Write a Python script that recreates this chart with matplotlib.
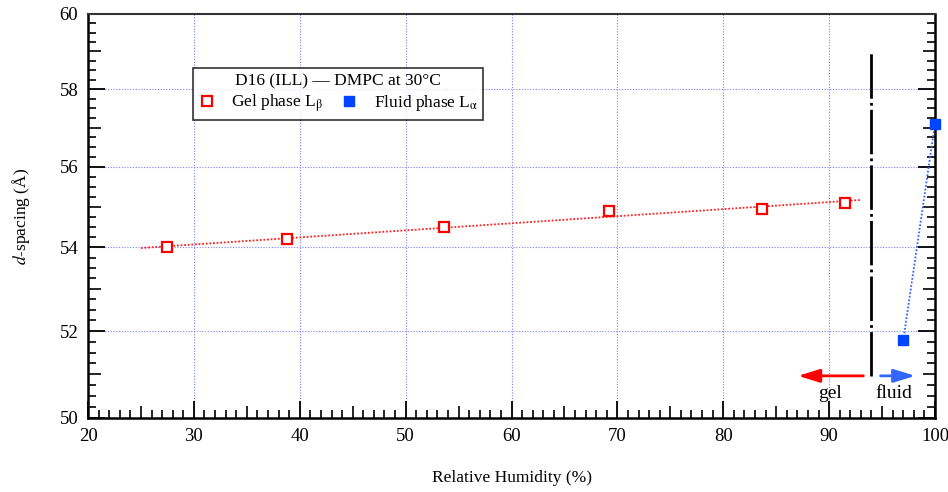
import numpy as np
import matplotlib
matplotlib.use("Agg")
import matplotlib.pyplot as plt
from matplotlib.ticker import FixedLocator, NullFormatter, FixedFormatter

plt.rcParams['font.family'] = ['Liberation Serif', 'DejaVu Serif']
plt.rcParams['mathtext.fontset'] = 'stix'

# data
gel_rh = [27.5, 38.8, 53.6, 69.2, 83.7, 91.5]
gel_d = [54.00, 54.20, 54.50, 54.90, 54.95, 55.10]
fluid_rh = [97.0, 100.0]
fluid_d = [51.78, 57.10]

fit_range = [25.0, 93.0]
boundary_rh = 94.0
x_ticks = [20, 30, 40, 50, 60, 70, 80, 90, 100]
y_ticks = [50, 52, 54, 56, 58, 60]

fig = plt.figure(figsize=(9.48, 4.92), dpi=100)
ax = fig.add_axes([88/948, 1-418/492, (935-88)/948, (418-14)/492])

ax.set_yscale('log')
ax.set_xlim(20, 100)
ax.set_ylim(50, 60)

# grid
for x in x_ticks[1:-1]:
    ax.axvline(x, color='#7f7fff', lw=0.8, ls=(0, (1, 1.5)), zorder=0)
for y in y_ticks[1:-1]:
    ax.axhline(y, color='#7f7fff', lw=0.8, ls=(0, (1, 1.5)), zorder=0)

# linear fit for the gel phase
a, b = np.polyfit(gel_rh, gel_d, 1)
xf = np.array(fit_range)
ax.plot(xf, a*xf + b, color='#ff2020', lw=1.3, ls=(0, (1, 1)), zorder=2)
ax.plot(fluid_rh, fluid_d, color='#3366ff', lw=1.3, ls=(0, (1, 1)), zorder=2)

ax.plot(gel_rh, gel_d, 's', ms=6.5, mfc='white', mec='#ff0000', mew=1.6,
        ls='none', label=r'Gel phase L$_\mathrm{β}$', zorder=3)
ax.plot(fluid_rh, fluid_d, 's', ms=7.5, mfc='#0044ff', mec='#0044ff',
        ls='none', label=r'Fluid phase L$_\mathrm{α}$', zorder=3, clip_on=False)

# phase boundary
ax.plot([boundary_rh, boundary_rh], [50.96, 59.0], color='black', lw=2,
        ls=(0, (16, 1.5, 1, 1.5)), zorder=2)

ax.annotate('', xy=(86.8, 50.96), xytext=(93.5, 50.96),
            arrowprops=dict(arrowstyle='-|>,head_length=1.3,head_width=0.4',
                            color='#ff0000', lw=2))
ax.annotate('', xy=(98.4, 50.96), xytext=(94.6, 50.96),
            arrowprops=dict(arrowstyle='-|>,head_length=1.3,head_width=0.4',
                            color='#3366ff', lw=2))
ax.text(90.1, 50.56, 'gel', ha='center', va='center', fontsize=14)
ax.text(96.1, 50.56, 'fluid', ha='center', va='center', fontsize=14)

# ticks
ax.xaxis.set_major_locator(FixedLocator(x_ticks))
ax.xaxis.set_minor_locator(FixedLocator([v for v in range(20, 101) if v % 5]))
ax.yaxis.set_major_locator(FixedLocator(y_ticks))
ax.yaxis.set_major_formatter(FixedFormatter([str(v) for v in y_ticks]))
ax.yaxis.set_minor_locator(FixedLocator([]))
ax.yaxis.set_minor_formatter(NullFormatter())
ax.tick_params(axis='both', which='major', direction='in', length=12, width=1.3,
               labelsize=13.5, pad=7)
ax.tick_params(axis='x', which='minor', direction='in', length=6, width=1.2)
ax.tick_params(axis='y', which='both', left=True, right=True)
ax.tick_params(axis='x', which='both', top=False)

# medium (odd integers) and small (quarters) ticks on the y axis
y_mid = [51, 53, 55, 57, 59]
y_small = [50 + 0.25*i for i in range(41) if i % 4]
for loc in ['left', 'right']:
    for locs, ln in [(y_mid, 9), (y_small, 6)]:
        sec = ax.secondary_yaxis(loc)
        sec.set_yscale('log')
        sec.yaxis.set_major_locator(FixedLocator(locs))
        sec.yaxis.set_major_formatter(NullFormatter())
        sec.yaxis.set_minor_locator(FixedLocator([]))
        sec.yaxis.set_minor_formatter(NullFormatter())
        sec.tick_params(which='major', direction='in', length=ln, width=1.2)
        sec.spines[loc].set_visible(False)

secx = ax.secondary_xaxis('bottom')
secx.xaxis.set_major_locator(FixedLocator([25, 35, 45, 55, 65, 75, 85, 95]))
secx.xaxis.set_major_formatter(NullFormatter())
secx.xaxis.set_minor_locator(FixedLocator([]))
secx.tick_params(which='major', direction='in', length=9, width=1.2)
secx.spines['bottom'].set_visible(False)

for s in ['left', 'bottom', 'right']:
    ax.spines[s].set_linewidth(1.8)
ax.spines['top'].set_linewidth(1.5)
ax.spines['top'].set_color('#333333')

ax.set_xlabel('Relative Humidity (%)', fontsize=12.5, labelpad=18)
ax.set_ylabel(r'$d$-spacing (Å)', fontsize=12.5, labelpad=20)

leg = ax.legend(title='D16 (ILL) — DMPC at 30°C', ncol=2, loc='upper left',
                bbox_to_anchor=(0.124, 0.866), fontsize=12.5, title_fontsize=12.5,
                frameon=True, fancybox=False, edgecolor='black',
                borderpad=0.3, handlelength=1.0, handletextpad=0.9,
                columnspacing=1.0, borderaxespad=0, labelspacing=0.2)
leg.get_frame().set_linewidth(1.2)

fig.savefig('out.png', dpi=100)
